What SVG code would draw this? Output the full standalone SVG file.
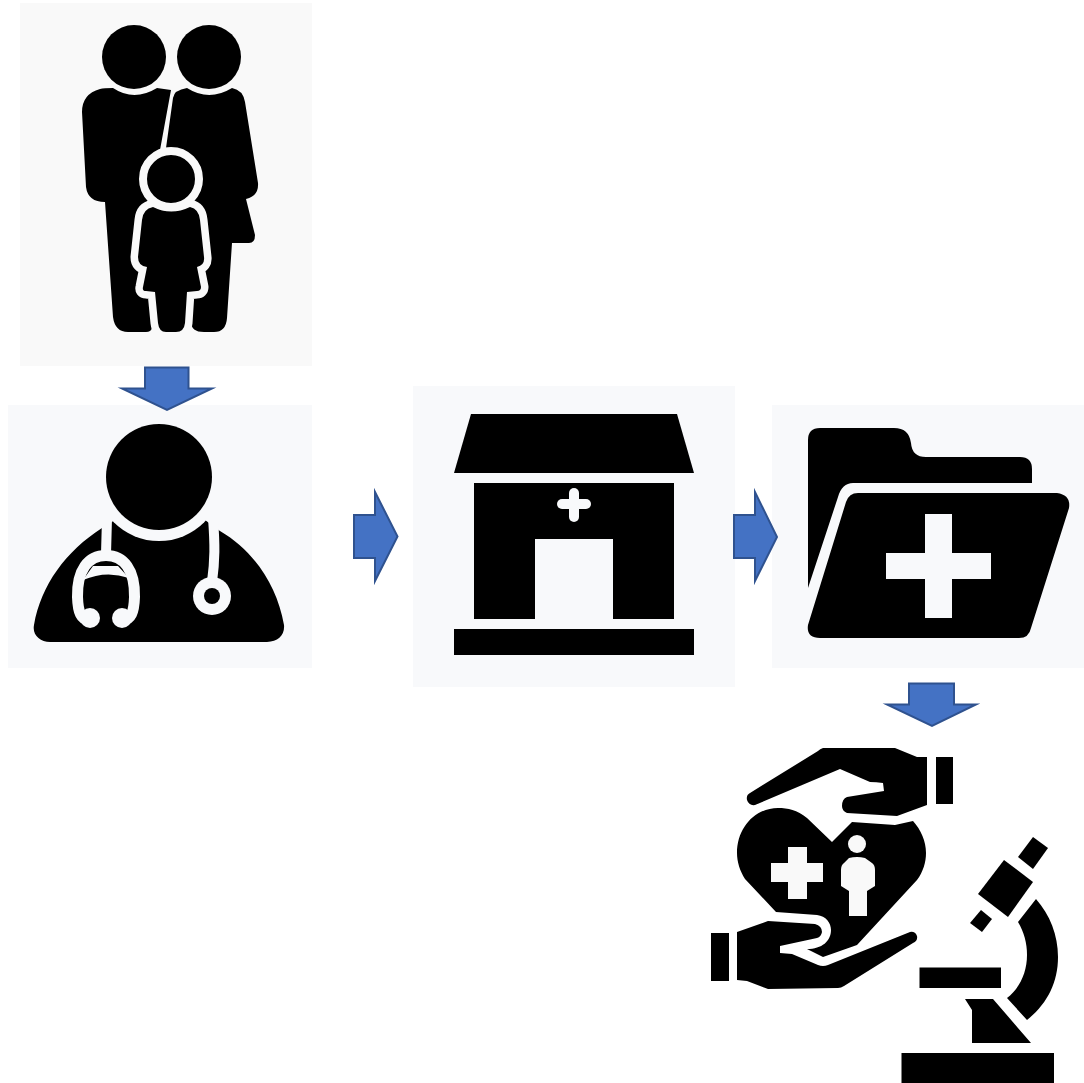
<svg xmlns="http://www.w3.org/2000/svg" width="1084" height="1083" viewBox="0 0 1084 1083">
<style>
.k{fill:#000}
.p1{fill:#f9f9f9}
.p2{fill:#f8f9fb}
.arrow{fill:#4472c4;stroke:#2f528f;stroke-width:2;stroke-miterlimit:8}
</style>
<rect width="1084" height="1083" fill="#fff"/>
<g id="family">
<rect class="p1" x="20" y="3" width="292" height="363"/>
<path class="k" d="M100 89Q104 88 113 88Q134 102 157 88L171 90L160 150L190 330L152 328Q151 332 146 332H128Q115 332 113 317L105 202Q88 202 86 187L82 112Q82 94 100 89Z"/>
<path class="k" d="M173 98Q174 90 187 88Q209 102 232 88Q243 90 245 102L258 183Q259 196 246 199L255 235Q255 243 249 243L232 243L227 318Q226 332 214 332H204Q191 332 191 322L170 180L160 170L166 148Z"/>
<path class="k" d="M153 207Q171 216 190 207Q199 209 200 220L204 257Q205 265 197 267L201 287Q201 291 197 291L187 292L185 323Q184 332 176 332H166Q159 332 158 323L155 292L146 291Q142 291 143 287L147 267Q138 266 138 257L142 220Q143 209 153 207Z" stroke="#f9f9f9" stroke-width="15" stroke-linejoin="round" paint-order="stroke"/>
<circle class="k" cx="134" cy="57" r="32"/>
<circle class="k" cx="209" cy="57" r="32"/>
<circle class="k" cx="171" cy="179" r="28" stroke="#f9f9f9" stroke-width="8"/>
</g>
<g id="doctor">
<rect class="p2" x="8" y="405" width="304" height="263"/>
<path class="k" d="M102 528L115 520H205L220 531C254 551 277 585 284 625C285 635 278 642 267 642H50C40 642 32 635 34 625C41 585 66 551 102 528Z"/>
<circle class="p2" cx="159" cy="477" r="64"/>
<circle class="k" cx="159" cy="477" r="53"/>
<path d="M107 518L106 554M213 518C215 545 215 560 212 582" fill="none" stroke="#f8f9fb" stroke-width="10"/>
<path d="M90 619C81 621 78 612 77.500 597C77 570 88 555.500 106 555.500C124 555.500 135 570 134.500 597C134 612 131 621 122 619" fill="none" stroke="#f8f9fb" stroke-width="11"/>
<path class="p2" d="M93 566H118L129 578Q106 570 83 580Z"/>
<circle class="p2" cx="90" cy="618" r="10"/>
<circle class="p2" cx="122" cy="618" r="10"/>
<circle class="p2" cx="212" cy="596" r="19"/>
<circle class="k" cx="212" cy="596" r="8"/>
</g>
<g id="clinic">
<rect class="p2" x="413" y="386" width="322" height="301"/>
<path class="k" d="M471 414H677L694 473H454Z"/>
<path class="k" d="M474 483H674V619H613V539H535V619H474Z"/>
<rect class="k" x="454" y="629" width="240" height="26"/>
<rect class="p2" x="569" y="488" width="10" height="34" rx="5"/>
<rect class="p2" x="557" y="499" width="34" height="10" rx="5"/>
</g>
<g id="records">
<rect class="p2" x="772" y="405" width="312" height="263"/>
<path class="k" d="M808 440Q808 428 820 428H894Q909 428 911 443Q912 457 926 457H1020Q1032 457 1032 469V483H853Q842 483 838 497L808 588Z"/>
<path class="k" d="M846 502Q849 493 858 493H1057Q1071 495 1069 508L1031 628Q1029 638 1019 638H820Q806 638 808 625Z"/>
<path class="p2" d="M925 514H952V553H991V579H952V618H925V579H886V553H925Z"/>
</g>
<g id="care">
<path class="k" d="M823 748H895L917 757H927V805L897 816L847 813Q842 811 842 806Q842 799 847 797L884 791L883 783Q876 782 870 782L840 769L755 805Q749 806 747 800Q746 795 750 793L818 751Q820 749 823 748Z"/>
<rect class="k" x="936" y="757" width="17" height="47"/>
<path class="k" d="M832 842L807 818C797 810 788 808 778 808C755 808 737 828 737 853C737 862 740 871 745 879L776 912L817 915C826 916 831 923 831 930C831 941 822 949 807 949L823 957L857 945L917 880C923 872 926 862 926 853C926 841 921 830 913 821L895 825L852 822Z"/>
<path class="p1" d="M788 847H807V863H823V882H807V899H788V882H771V863H788Z"/>
<circle class="p1" cx="857" cy="844" r="9"/>
<path class="p1" d="M849 858Q857 856 865 858L872 863Q875 865 875 870V886L867 891V916H849V891L841 886V870Q841 865 844 863Z"/>
<path class="k" d="M737 932L768 921L815 924Q822 926 822 932Q821 937 817 938L780 946V953L792 954L818 965Q823 967 828 965L910 932Q915 931 917 936Q918 941 913 943L844 986Q841 988 838 988L768 989L747 981L737 980Z"/>
<rect class="k" x="711" y="933" width="18" height="48"/>
</g>
<g id="microscope">
<path class="k" d="M1033 837L1048 848L1033 869L1018 857Z"/>
<path class="k" d="M1004 860L1033 882L1008 917L978 894Z"/>
<path class="k" d="M981 910L992 919L982 932L970 923Z"/>
<path class="k" d="M1036 899C1050 915 1058 935 1058 957C1058 983 1047 1004 1027 1020L1007 998C1020 988 1027 972 1027 955C1027 943 1024 932 1018 922Z"/>
<rect class="k" x="919.500" y="967.500" width="81.500" height="20.500"/>
<path class="k" d="M965 999H993L1031 1043H972V1010Z"/>
<rect class="k" x="901.500" y="1053" width="152.500" height="30"/>
</g>
<g id="connectors">
<path class="arrow" d="M145 367.500H188.500V388.500H212L167 410L122 388.500H145Z"/>
<path class="arrow" d="M354 515H375V492L397.500 536.500L375 581V558H354Z"/>
<path class="arrow" d="M734 515H755V492L777 537L755 581V558H734Z"/>
<path class="arrow" d="M909 683.500H954V704.500H976L932 726L887 704.500H909Z"/>
</g>
</svg>
